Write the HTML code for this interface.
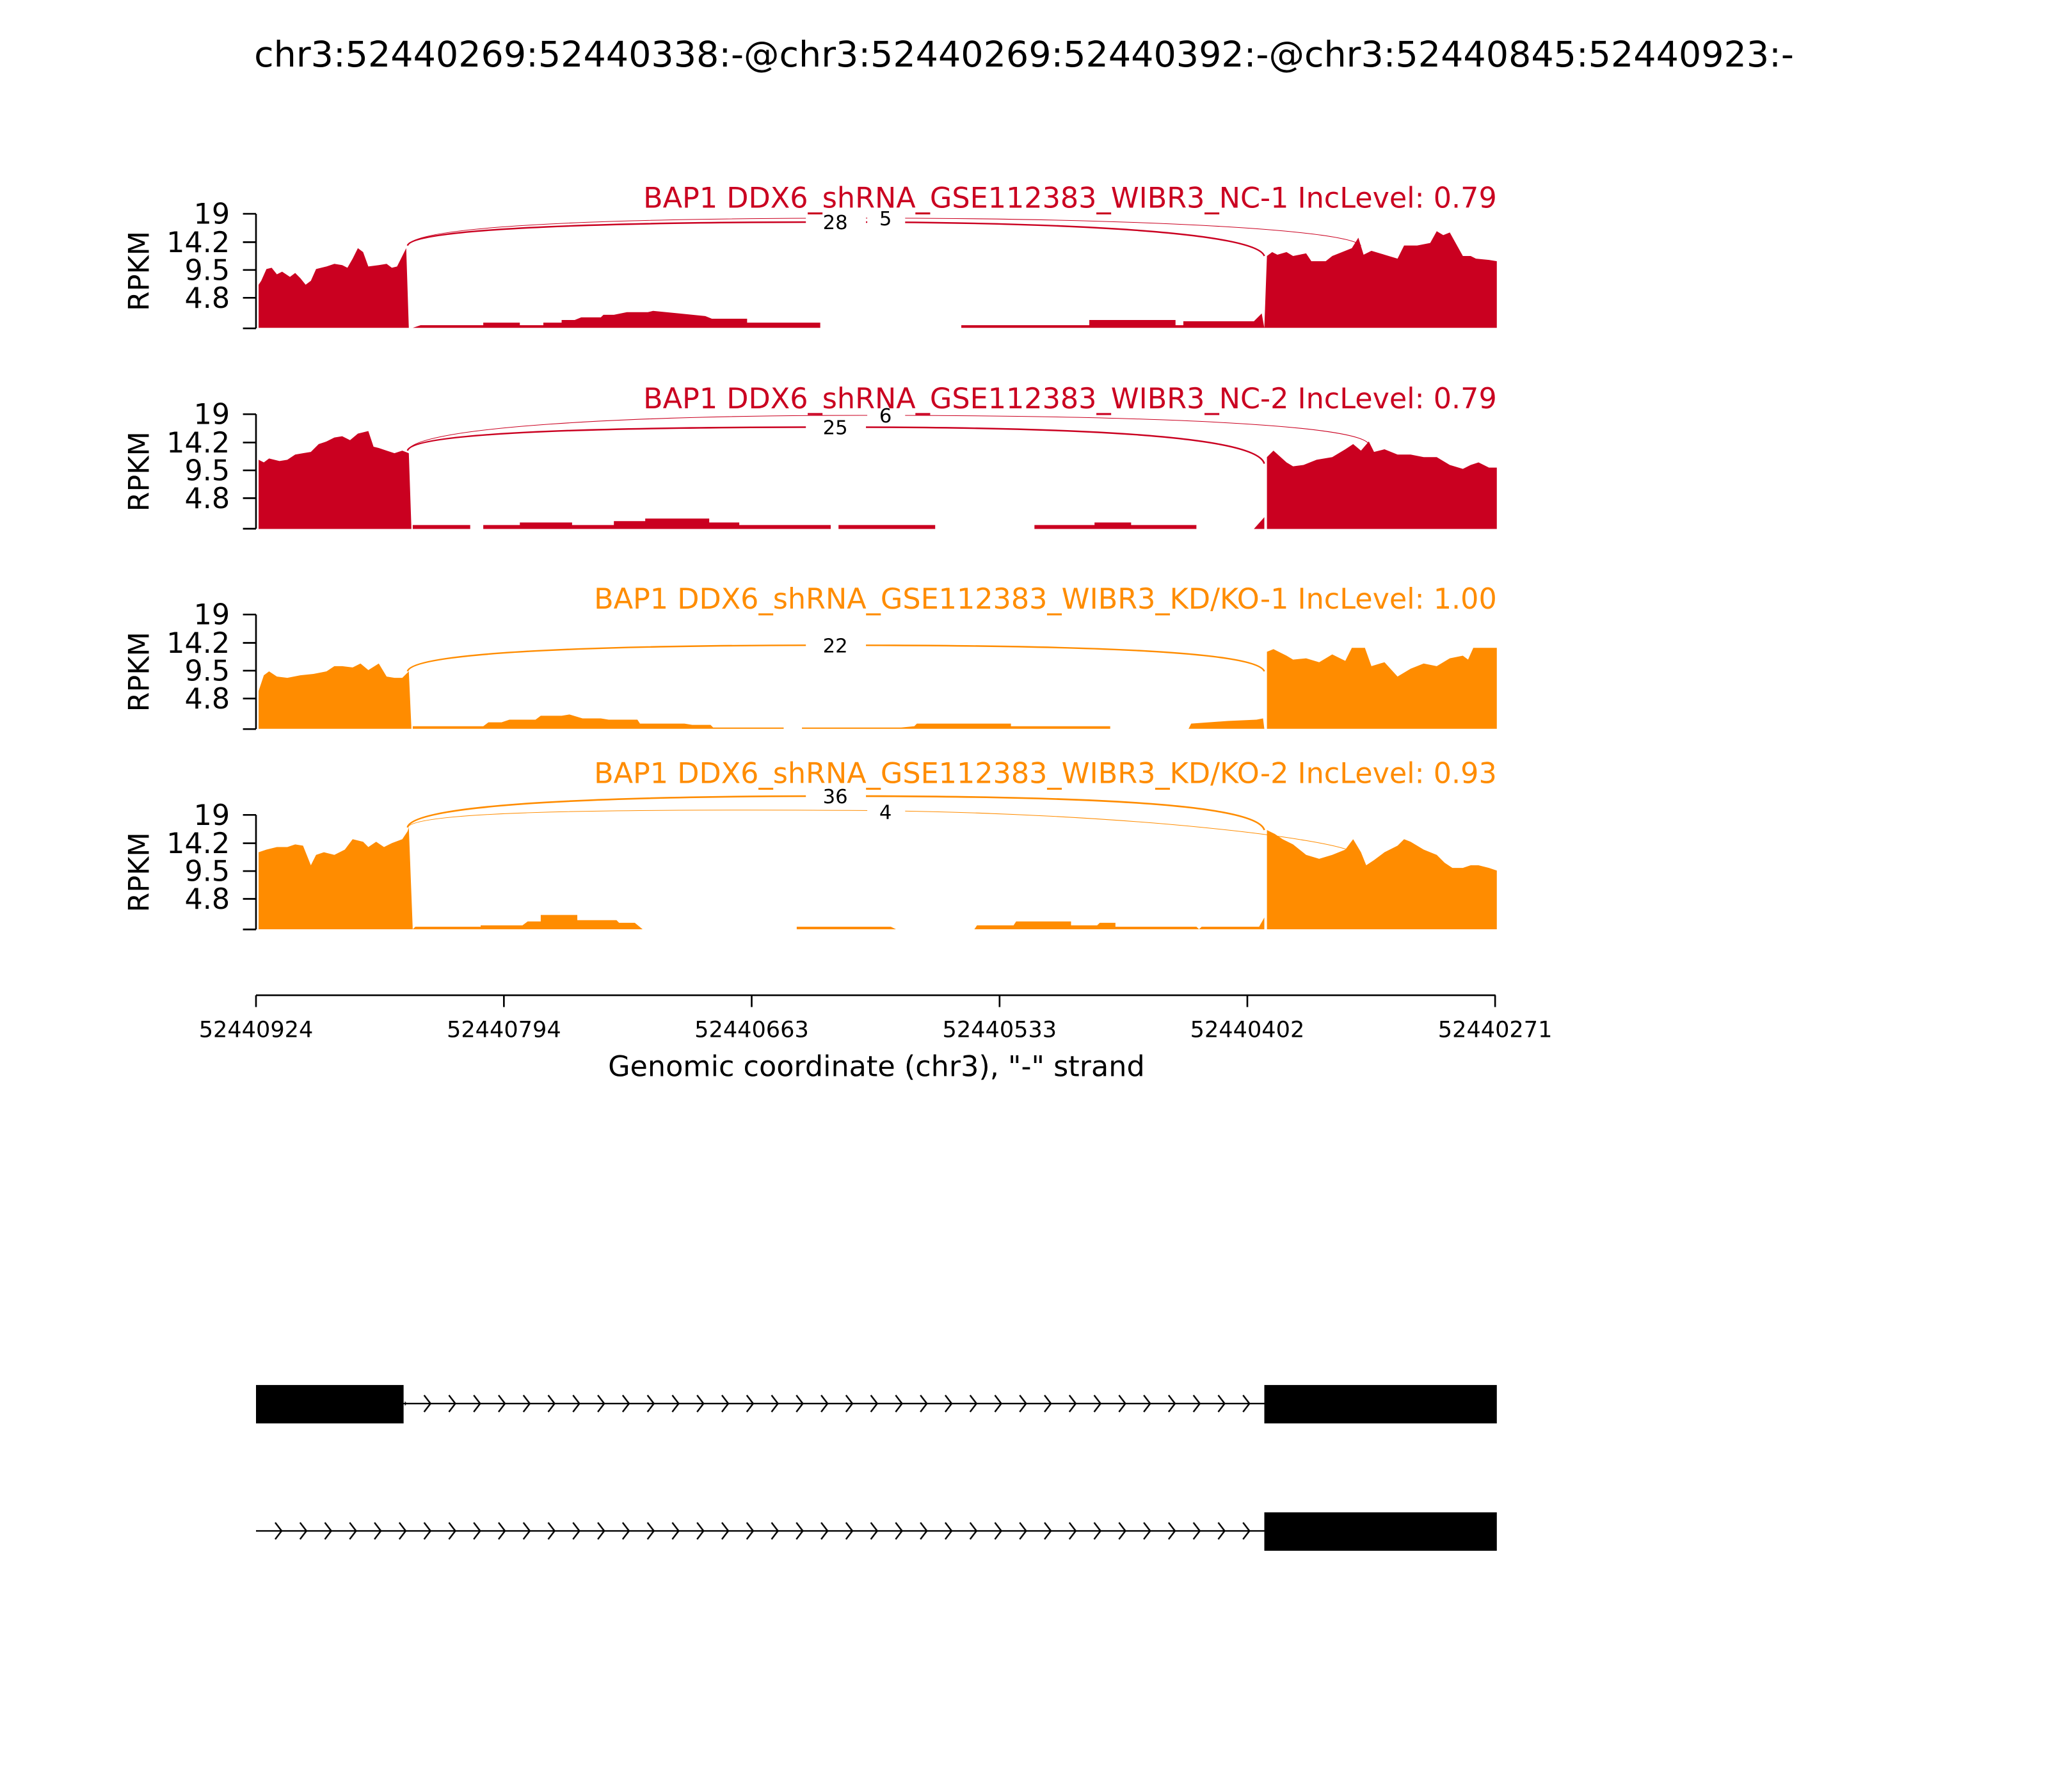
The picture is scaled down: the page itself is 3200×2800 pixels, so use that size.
<!DOCTYPE html>
<html><head><meta charset="utf-8"><style>html,body{margin:0;padding:0;background:#fff;}svg{display:block;}</style></head>
<body>
<svg xmlns="http://www.w3.org/2000/svg" width="3200" height="2800" viewBox="0 0 1568 1372" font-family="'DejaVu Sans','Liberation Sans',sans-serif">
<defs>
<pattern id="ch1" patternUnits="userSpaceOnUse" x="197.1" y="1067.6" width="19" height="14"><path d="M13.6 0.6 L18.5 7 L13.6 13.4" fill="none" stroke="#000" stroke-width="1.2"/></pattern>
<pattern id="ch2" patternUnits="userSpaceOnUse" x="197.1" y="1165.1" width="19" height="14"><path d="M13.6 0.6 L18.5 7 L13.6 13.4" fill="none" stroke="#000" stroke-width="1.2"/></pattern>
</defs>
<rect width="1568" height="1372" fill="#fff"/>
<text x="784" y="51" font-size="27.2" text-anchor="middle">chr3:52440269:52440338:-@chr3:52440269:52440392:-@chr3:52440845:52440923:-</text>

<!-- Panel 1 -->
<g>
<polygon fill="#ca0020" points="198,251 198,218 200,215 204,206 208,205 212,210 216,208 222,212 226,209 230,213 234,218 238,215 242,206 250,204 256,202 262,203 266,205 270,198 274,190 278,193 282,204 290,203 296,202 300,205 304,204 308,196 311,190 313,251"/>
<polygon fill="#ca0020" points="316,251 322,249 370,249 370,247 398,247 398,249 416,249 416,247 430,247 430,245 440,245 445,243 460,243 462,241 470,241 480,239 496,239 500,238 510,239 520,240 540,242 545,244 572,244 572,247 628,247 628,251 736,251 736,249 834,249 834,245 900,245 900,249 906,249 906,246 960,246 966,240 968,251"/>
<polygon fill="#ca0020" points="968,251 970,196 974,193 978,195 985,193 990,196 1000,194 1004,200 1015,200 1020,196 1030,192 1035,190 1040,182 1044,195 1050,192 1060,195 1070,198 1075,188 1085,188 1095,186 1100,177 1105,180 1110,178 1115,187 1120,196 1126,196 1130,198 1140,199 1146,200 1146,251"/>
<path d="M312 188 C316 174 480 170 640 170 C820 170 962 178 968 196" fill="none" stroke="#ca0020" stroke-width="1.2"/>
<path d="M312 188 C318 172 480 167 660 167 C860 167 1030 175 1042 188" fill="none" stroke="#ca0020" stroke-width="0.5"/>
<rect x="617" y="162" width="46" height="16" fill="#fff"/><rect x="664" y="160" width="29" height="15" fill="#fff"/>
<text x="639.5" y="175.5" font-size="15" text-anchor="middle">28</text>
<text x="678" y="172.5" font-size="15" text-anchor="middle">5</text>
<text x="1146" y="159" font-size="21.8" fill="#ca0020" text-anchor="end">BAP1 DDX6_shRNA_GSE112383_WIBR3_NC-1 IncLevel: 0.79</text>
</g>

<!-- Panel 2 -->
<g>
<polygon fill="#ca0020" points="198,405 198,352 202,354 206,351 214,353 220,352 226,348 232,347 238,346 244,340 250,338 256,335 262,334 268,337 274,332 282,330 286,342 290,343 296,345 302,347 308,345 313,347 315,405"/>
<polygon fill="#ca0020" points="316,405 316,402 360,402 360,405 370,405 370,402 398,402 398,400 438,400 438,402 470,402 470,399 494,399 494,397 543,397 543,400 566,400 566,402 636,402 636,405 642,405 642,402 716,402 716,405 792,405 792,402 838,402 838,400 866,400 866,402 916,402 916,405 960,405 968,396 968,405"/>
<polygon fill="#ca0020" points="970,405 970,350 975,345 985,354 990,357 998,356 1008,352 1020,350 1030,344 1036,340 1042,345 1048,338 1052,346 1060,344 1070,348 1080,348 1090,350 1100,350 1110,356 1120,359 1126,356 1132,354 1140,358 1146,358 1146,405"/>
<path d="M312 345 C316 330 480 327 640 327 C820 327 962 333 968 355" fill="none" stroke="#ca0020" stroke-width="1.2"/>
<path d="M312 345 C318 327 480 318 660 318 C880 318 1040 325 1048 340" fill="none" stroke="#ca0020" stroke-width="0.5"/>
<rect x="617" y="319" width="46" height="16" fill="#fff"/><rect x="664" y="311" width="29" height="15" fill="#fff"/>
<text x="639.5" y="332.5" font-size="15" text-anchor="middle">25</text>
<text x="678" y="323.5" font-size="15" text-anchor="middle">6</text>
<text x="1146" y="312.5" font-size="21.8" fill="#ca0020" text-anchor="end">BAP1 DDX6_shRNA_GSE112383_WIBR3_NC-2 IncLevel: 0.79</text>
</g>

<!-- Panel 3 -->
<g transform="translate(0,2)">
<polygon fill="#ff8c00" points="198,556 198,527 202,515 206,512 212,516 220,517 230,515 240,514 250,512 256,508 262,508 270,509 276,506 282,511 290,506 296,516 302,517 308,517 313,512 315,556"/>
<polygon fill="#ff8c00" points="316,556 316,554 370,554 374,551 384,551 390,549 410,549 414,546 430,546 436,545 446,548 460,548 466,549 488,549 490,552 524,552 530,553 544,553 546,555 600,555 600,556 614,556 614,555 690,555 700,554 702,552 774,552 774,554 850,554 850,556 910,556 912,552 940,550 962,549 967,548 968,556"/>
<polygon fill="#ff8c00" points="970,556 970,497 975,495 985,500 990,503 1000,502 1010,505 1020,499 1030,504 1035,494 1045,494 1050,508 1060,505 1070,516 1080,510 1090,506 1100,508 1110,502 1120,500 1124,503 1128,494 1135,494 1146,494 1146,556"/>
<path d="M312 512 C316 496 480 492 640 492 C820 492 962 496 968 512" fill="none" stroke="#ff8c00" stroke-width="1.2"/>
<rect x="617" y="484" width="46" height="16" fill="#fff"/>
<text x="639.5" y="497.5" font-size="15" text-anchor="middle">22</text>
<text x="1146" y="464" font-size="21.8" fill="#ff8c00" text-anchor="end">BAP1 DDX6_shRNA_GSE112383_WIBR3_KD/KO-1 IncLevel: 1.00</text>
</g>

<!-- Panel 4 -->
<g transform="translate(0,2.5)">
<polygon fill="#ff8c00" points="198,709 198,650 204,648 212,646 220,646 226,644 232,645 238,660 242,652 248,650 256,652 264,648 270,640 278,642 282,646 288,642 294,646 300,643 308,640 312,634 313,631 316,709"/>
<polygon fill="#ff8c00" points="316,709 318,707 368,707 368,706 400,706 404,703 414,703 414,698 442,698 442,702 472,702 474,704 486,704 492,709 610,709 610,707 682,707 686,709 746,709 748,706 776,706 778,703 820,703 820,706 840,706 842,704 854,704 854,707 916,707 918,709 920,707 964,707 968,700 968,709"/>
<polygon fill="#ff8c00" points="970,709 970,633 976,636 982,640 990,644 1000,652 1010,655 1020,652 1030,648 1036,640 1042,650 1046,660 1052,656 1060,650 1070,645 1075,640 1080,642 1090,648 1100,652 1106,658 1112,662 1120,662 1126,660 1132,660 1140,662 1146,664 1146,709"/>
<path d="M312 631 C316 612 480 607 640 607 C820 607 962 612 968 633" fill="none" stroke="#ff8c00" stroke-width="1.3"/>
<path d="M312 631 C318 618 480 617 660 618 C870 620 1020 640 1036 650" fill="none" stroke="#ff8c00" stroke-width="0.5"/>
<rect x="617" y="599" width="46" height="16" fill="#fff"/><rect x="664" y="611" width="29" height="15" fill="#fff"/>
<text x="639.5" y="612.5" font-size="15" text-anchor="middle">36</text>
<text x="678" y="624.5" font-size="15" text-anchor="middle">4</text>
<text x="1146" y="597" font-size="21.8" fill="#ff8c00" text-anchor="end">BAP1 DDX6_shRNA_GSE112383_WIBR3_KD/KO-2 IncLevel: 0.93</text>
</g>

<!-- Y axes -->
<g stroke="#000" stroke-width="1.3" fill="none">
<path d="M196 163.7 V251.4 M186 163.7 H196 M186 185.4 H196 M186 206.7 H196 M186 228 H196 M186 251.4 H196"/>
<path d="M196 317.1 V404.8 M186 317.1 H196 M186 338.8 H196 M186 360.1 H196 M186 381.4 H196 M186 404.8 H196"/>
<path d="M196 470.5 V558.2 M186 470.5 H196 M186 492.2 H196 M186 513.5 H196 M186 534.8 H196 M186 558.2 H196"/>
<path d="M196 623.9 V711.6 M186 623.9 H196 M186 645.6 H196 M186 666.9 H196 M186 688.2 H196 M186 711.6 H196"/>
</g>
<g font-size="21.8" text-anchor="end">
<text x="176" y="171.3">19</text><text x="176" y="193">14.2</text><text x="176" y="214.3">9.5</text><text x="176" y="235.6">4.8</text>
<text x="176" y="324.7">19</text><text x="176" y="346.4">14.2</text><text x="176" y="367.7">9.5</text><text x="176" y="389">4.8</text>
<text x="176" y="478.1">19</text><text x="176" y="499.8">14.2</text><text x="176" y="521.1">9.5</text><text x="176" y="542.4">4.8</text>
<text x="176" y="631.5">19</text><text x="176" y="653.2">14.2</text><text x="176" y="674.5">9.5</text><text x="176" y="695.8">4.8</text>
</g>
<g font-size="21.8" text-anchor="middle">
<text transform="translate(114,207.5) rotate(-90)">RPKM</text>
<text transform="translate(114,361) rotate(-90)">RPKM</text>
<text transform="translate(114,514.4) rotate(-90)">RPKM</text>
<text transform="translate(114,667.8) rotate(-90)">RPKM</text>
</g>

<!-- X axis -->
<path d="M196 762 H1145 M196 762 V771 M385.8 762 V771 M575.5 762 V771 M765.3 762 V771 M955 762 V771 M1144.7 762 V771" stroke="#000" stroke-width="1.3" fill="none"/>
<g font-size="17.2" text-anchor="middle">
<text x="196" y="794">52440924</text><text x="385.8" y="794">52440794</text><text x="575.5" y="794">52440663</text>
<text x="765.3" y="794">52440533</text><text x="955" y="794">52440402</text><text x="1144.7" y="794">52440271</text>
</g>
<text x="671" y="824" font-size="21.8" text-anchor="middle">Genomic coordinate (chr3), "-" strand</text>

<!-- Gene models -->
<line x1="196" y1="1074.6" x2="968" y2="1074.6" stroke="#000" stroke-width="1.2"/>
<rect x="310" y="1067.6" width="656" height="14" fill="url(#ch1)"/>
<rect x="196" y="1060.4" width="113" height="29.4" fill="#000"/>
<rect x="968" y="1060.4" width="178" height="29.4" fill="#000"/>
<line x1="196" y1="1172.1" x2="968" y2="1172.1" stroke="#000" stroke-width="1.2"/>
<rect x="198" y="1165.1" width="768" height="14" fill="url(#ch2)"/>
<rect x="968" y="1157.9" width="178" height="29.4" fill="#000"/>
</svg>
</body></html>
